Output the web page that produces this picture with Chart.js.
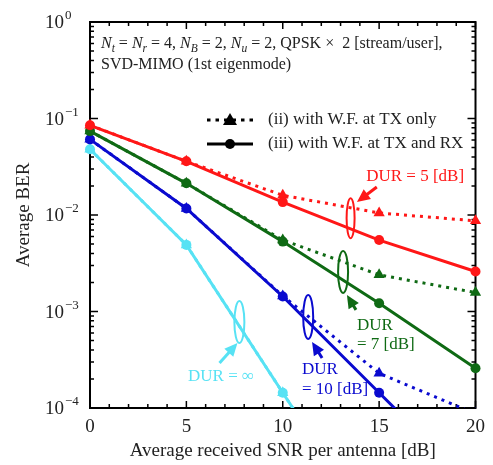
<!DOCTYPE html>
<html>
<head>
<meta charset="utf-8">
<script src="https://cdn.jsdelivr.net/npm/chart.js@4/dist/chart.umd.min.js"></script>
<style>
html,body{margin:0;padding:0;background:#fff;}
#wrap{width:493px;height:465px;}
</style>
</head>
<body>
<div id="wrap"><canvas id="c" width="493" height="465"></canvas></div>
<script>
// ---- data ----
const snr = [0, 5, 10, 15, 20];
const redTxRx   = [0.085, 0.036, 0.0136, 0.0055, 0.0026];
const redTx     = [0.085, 0.036, 0.016, 0.0105, 0.0087];
const greenTxRx = [0.074, 0.0213, 0.0053, 0.00122, 0.000258];
const greenTx   = [0.074, 0.0213, 0.0055, 0.0024, 0.00157];
const blueTxRx  = [0.0608, 0.0117, 0.00143, 0.000144, 0.0000145];
const blueTx    = [0.0608, 0.0117, 0.00145, 0.000229, 0.000087];
const cyanTxRx  = [0.048, 0.0049, 0.000144, 0.0000043, null];
const cyanTx    = [0.048, 0.0049, 0.000144, 0.0000043, null];
const yDecades  = [0, -1, -2, -3, -4];
const legendLabels = ['(ii) with W.F. at TX only', '(iii) with W.F. at TX and RX'];

const RED = '#ff1717', GREEN = '#0f6a14', BLUE = '#0a0acf', CYAN = '#57e2f4';
const FONT = '"Liberation Serif", "Times New Roman", serif';
const TXT = '#222';

function pts(vals){ return snr.map((x,i)=>({x:x, y:vals[i]})); }
function solid(label, vals, col){
  return {label, data: pts(vals), borderColor: col, backgroundColor: col, borderWidth: 3,
    pointStyle: 'circle', pointRadius: 5, pointBorderWidth: 0, order: 0,
    clip: {left: 8, top: 8, right: 8, bottom: 0}};
}
function dotted(label, vals, col){
  return {label, data: pts(vals), borderColor: col, backgroundColor: col, borderWidth: 3,
    borderDash: [3, 5], borderCapStyle: 'butt',
    pointStyle: 'triangle', pointRadius: 6.5, pointBorderWidth: 0, order: 1,
    clip: {left: 8, top: 8, right: 8, bottom: 0}};
}

// annotations (data coords for anchors)
const notes = [
  {col: RED,   ell: [13.52, 0.00925, 4, 20], arrow: [14.88, 0.0195, 13.85, 0.01364],
   text: [['DUR = 5 [dB]', 16.87, 0.0248, 'center']]},
  {col: GREEN, ell: [13.13, 0.00257, 5, 21], arrow: [13.8, 0.00104, 13.33, 0.00148],
   text: [['DUR', 13.85, 0.000724, 'left'], ['= 7 [dB]', 13.85, 0.00045, 'left']]},
  {col: BLUE,  ell: [11.32, 0.000877, 5, 22], arrow: [12.04, 0.00033, 11.52, 0.000483],
   text: [['DUR', 11.0, 0.000248, 'left'], ['= 10 [dB]', 11.0, 0.000157, 'left']]},
  {col: CYAN,  ell: [7.75, 0.000778, 5, 21], arrow: [6.72, 0.000292, 7.65, 0.000472],
   text: [['DUR = \u221E', 6.8, 0.00021, 'center']]}
];

function arrowHead(ctx, x1, y1, x2, y2, col){
  const a = Math.atan2(y2-y1, x2-x1);
  const L = 13, W = 6;
  ctx.save();
  ctx.strokeStyle = col; ctx.fillStyle = col; ctx.lineWidth = 3;
  ctx.beginPath(); ctx.moveTo(x1,y1);
  ctx.lineTo(x2 - Math.cos(a)*L*0.8, y2 - Math.sin(a)*L*0.8); ctx.stroke();
  ctx.beginPath();
  ctx.moveTo(x2, y2);
  ctx.lineTo(x2 - Math.cos(a)*L - Math.sin(a)*W, y2 - Math.sin(a)*L + Math.cos(a)*W);
  ctx.lineTo(x2 - Math.cos(a)*L + Math.sin(a)*W, y2 - Math.sin(a)*L - Math.cos(a)*W);
  ctx.closePath(); ctx.fill();
  ctx.restore();
}

function richText(ctx, x, y, segs, size){
  let cx = x;
  for (const s of segs){
    const sz = s.sub ? size*0.72 : size;
    ctx.font = (s.it ? 'italic ' : '') + sz + 'px ' + FONT;
    const dy = s.sub ? size*0.28 : 0;
    ctx.fillText(s.t, cx, y + dy);
    cx += ctx.measureText(s.t).width;
  }
}

const deco = {
  id: 'deco',
  beforeDatasetsDraw(chart){
    const {ctx, chartArea: ca, scales} = chart;
    const xs = scales.x, ys = scales.y;
    ctx.save();
    ctx.strokeStyle = '#000'; ctx.lineWidth = 2;
    ctx.strokeRect(ca.left, ca.top, ca.right-ca.left, ca.bottom-ca.top);
    ctx.lineWidth = 1.5;
    ctx.beginPath();
    for (let v = 0; v <= 20; v++){
      const px = xs.getPixelForValue(v);
      const len = (v % 5 === 0) ? 7 : 4;
      ctx.moveTo(px, ca.bottom); ctx.lineTo(px, ca.bottom - len);
      ctx.moveTo(px, ca.top); ctx.lineTo(px, ca.top + len);
    }
    for (let e = -4; e <= 0; e++){
      for (let m = 1; m <= 9; m++){
        if (e === 0 && m > 1) break;
        const py = ys.getPixelForValue(m * Math.pow(10, e));
        const len = (m === 1) ? 8 : 4;
        ctx.moveTo(ca.left, py); ctx.lineTo(ca.left + len, py);
        ctx.moveTo(ca.right, py); ctx.lineTo(ca.right - len, py);
      }
    }
    ctx.stroke();
    // y tick labels
    ctx.fillStyle = TXT; ctx.textBaseline = 'middle'; ctx.textAlign = 'left';
    for (const e of yDecades){
      const py = ys.getPixelForValue(Math.pow(10, e));
      ctx.font = '19px ' + FONT;
      ctx.fillText('10', 45, py + 1.5);
      const w = ctx.measureText('10').width;
      ctx.font = '13px ' + FONT;
      ctx.fillText(e === 0 ? '0' : '\u2212' + (-e), 45 + w + 1, py - 6);
    }
    ctx.restore();
  },
  afterDatasetsDraw(chart){
    const {ctx, chartArea: ca, scales} = chart;
    const xs = scales.x, ys = scales.y;
    ctx.save();
    // header text
    ctx.fillStyle = TXT; ctx.textBaseline = 'middle'; ctx.textAlign = 'left';
    richText(ctx, ca.left + 11, ca.top + 22, [
      {t:'N', it:true}, {t:'t', it:true, sub:true}, {t:' = '},
      {t:'N', it:true}, {t:'r', it:true, sub:true}, {t:' = 4, '},
      {t:'N', it:true}, {t:'B', it:true, sub:true}, {t:' = 2, '},
      {t:'N', it:true}, {t:'u', it:true, sub:true}, {t:' = 2, QPSK \u00D7  2 [stream/user],'}
    ], 16);
    richText(ctx, ca.left + 11, ca.top + 43, [{t:'SVD-MIMO (1st eigenmode)'}], 16);
    // legend
    const lx0 = ca.left + 117, lx1 = ca.left + 163, lmx = (lx0 + lx1)/2;
    const ly = [ca.top + 98, ca.top + 122];
    ctx.strokeStyle = '#000'; ctx.fillStyle = '#000'; ctx.lineWidth = 3;
    ctx.setLineDash([3.5, 5]);
    ctx.beginPath(); ctx.moveTo(lx0, ly[0]); ctx.lineTo(lx1, ly[0]); ctx.stroke();
    ctx.setLineDash([]);
    ctx.beginPath(); ctx.moveTo(lmx, ly[0]-7); ctx.lineTo(lmx+7, ly[0]+5); ctx.lineTo(lmx-7, ly[0]+5); ctx.closePath(); ctx.fill();
    ctx.beginPath(); ctx.moveTo(lx0, ly[1]); ctx.lineTo(lx1, ly[1]); ctx.stroke();
    ctx.beginPath(); ctx.arc(lmx, ly[1], 5, 0, Math.PI*2); ctx.fill();
    ctx.fillStyle = TXT; ctx.font = '17px ' + FONT;
    ctx.fillText(legendLabels[0], ca.left + 178, ly[0]);
    ctx.fillText(legendLabels[1], ca.left + 178, ly[1]);
    // annotations
    for (const n of notes){
      const ex = xs.getPixelForValue(n.ell[0]), ey = ys.getPixelForValue(n.ell[1]);
      ctx.strokeStyle = n.col; ctx.lineWidth = 2;
      ctx.beginPath(); ctx.ellipse(ex, ey, n.ell[2], n.ell[3], 0, 0, Math.PI*2); ctx.stroke();
      arrowHead(ctx, xs.getPixelForValue(n.arrow[0]), ys.getPixelForValue(n.arrow[1]),
                     xs.getPixelForValue(n.arrow[2]), ys.getPixelForValue(n.arrow[3]), n.col);
      ctx.fillStyle = n.col; ctx.font = '17px ' + FONT; ctx.textBaseline = 'middle';
      for (const t of n.text){
        ctx.textAlign = t[3];
        ctx.fillText(t[0], xs.getPixelForValue(t[1]), ys.getPixelForValue(t[2]));
      }
    }
    ctx.restore();
  }
};

new Chart(document.getElementById('c'), {
  type: 'line',
  data: {
    datasets: [
      solid('red (iii)', redTxRx, RED), dotted('red (ii)', redTx, RED),
      solid('green (iii)', greenTxRx, GREEN), dotted('green (ii)', greenTx, GREEN),
      solid('blue (iii)', blueTxRx, BLUE), dotted('blue (ii)', blueTx, BLUE),
      solid('cyan (iii)', cyanTxRx, CYAN), dotted('cyan (ii)', cyanTx, CYAN)
    ]
  },
  options: {
    responsive: false, animation: false, devicePixelRatio: 1,
    layout: {padding: {top: 22, right: 16, left: 0, bottom: 0}},
    plugins: {legend: {display: false}, tooltip: {enabled: false}},
    elements: {line: {tension: 0}},
    scales: {
      x: {type: 'linear', min: 0, max: 20,
          ticks: {stepSize: 5, font: {size: 19, family: FONT}, color: TXT, padding: 8, maxRotation: 0},
          grid: {display: false, drawTicks: false}, border: {display: false},
          title: {display: true, text: 'Average received SNR per antenna [dB]',
                  font: {size: 19, family: FONT}, color: TXT, padding: {top: 0, bottom: 3}},
          afterFit(s){ s.height = 57; }},
      y: {type: 'logarithmic', min: 1e-4, max: 1,
          ticks: {display: false},
          grid: {display: false, drawTicks: false}, border: {display: false},
          title: {display: true, text: 'Average BER',
                  font: {size: 19, family: FONT}, color: TXT, padding: {top: 13, bottom: 0}},
          afterFit(s){ s.width = 90; }}
    }
  },
  plugins: [deco]
});
</script>
</body>
</html>
